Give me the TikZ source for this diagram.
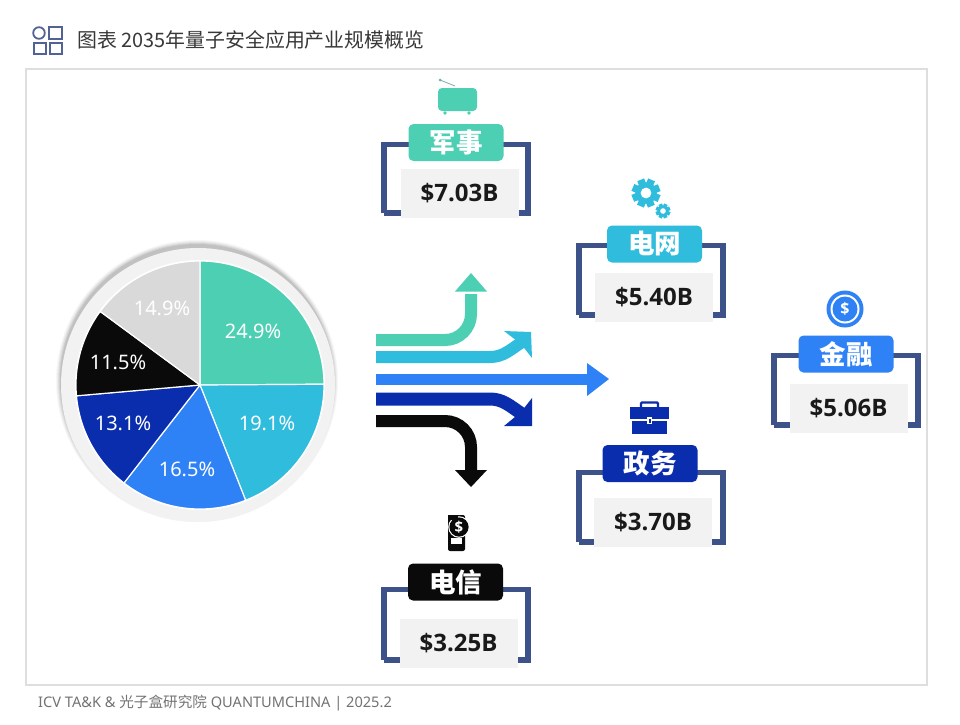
\documentclass[tikz,border=0pt]{standalone}
\usepackage{fontspec}
\usetikzlibrary{calc}
\newfontfamily\cjk{Noto Sans CJK SC}
\newfontfamily\latf{Noto Sans}
\newfontfamily\latb{Open Sans}
\setmainfont{Noto Sans}
\definecolor{cteal}{HTML}{4CCFB2}
\definecolor{ccyan}{HTML}{2FBCDD}
\definecolor{cblue}{HTML}{2F82F6}
\definecolor{cnavy}{HTML}{0A2DAE}
\definecolor{cblack}{HTML}{0A0A0A}
\definecolor{cgrey}{HTML}{D9D9D9}
\definecolor{cbrack}{HTML}{3C5288}
\definecolor{cvalue}{HTML}{F2F2F2}
\tikzset{
  tag/.style={rounded corners=5pt,inner sep=0pt,minimum width=95pt,minimum height=37pt,text=white,font=\cjk\bfseries\fontsize{26.5}{26}\selectfont},
  valbox/.style={fill=cvalue,inner sep=0pt,minimum width=118pt,minimum height=49pt,text=black!90,font=\latb\bfseries\fontsize{24}{26}\selectfont},
  bracket/.style={draw=cbrack,line width=5.5pt,miter limit=10},
  pct/.style={text=white,inner sep=0pt,font=\latf\fontsize{20}{22}\selectfont},
  flow/.style={line width=12pt,rounded corners=26pt},
  gearpart/.style={fill=ccyan,draw=none},
}
% #1 name, #2 tag centre x, #3 tag centre y, #4 colour, #5 text, #6 bracket centre x, #7 bracket top y, #8 bracket bottom y, #9 value centre
\newcommand{\cardbox}[9]{%
  \draw[bracket] (#6-72,#8) -- (#6-72,#7) -- (#6+72,#7) -- (#6+72,#8) -- (#6+50,#8);
  \draw[bracket] (#6-72,#8) -- (#6-50,#8);
  \node[valbox] (#1val) at #9 {\valtext};
  \node[tag,fill=#4] (#1tag) at (#2,#3) {\raisebox{1.5pt}{#5}};
}
\newcommand{\valtext}{}
\newcommand{\gearicon}[3]{%
  \fill[gearpart] (#1,#2) circle[radius=#3];
  \foreach \a in {0,45,...,135}{
    \fill[gearpart,shift={(#1,#2)},rotate=\a+22] (-#3*0.34,-#3*1.32) rectangle (#3*0.34,#3*1.32);
  }
  \fill[white] (#1,#2) circle[radius=#3*0.5];
}
\begin{document}
\begin{tikzpicture}[x=1pt,y=-1pt]
\useasboundingbox (0,0) rectangle (960,724);
\fill[white] (0,0) rectangle (960,724);
% title icon
\draw[cbrack!90,line width=1.8pt] (39,33) circle[radius=5.8];
\draw[cbrack!90,line width=1.8pt] (49,27) rectangle (62,39);
\draw[cbrack!90,line width=1.8pt] (34,43) rectangle (46,54);
\draw[cbrack!90,line width=1.8pt] (50,43) rectangle (62,54);
\node[anchor=west,inner sep=0pt,text=black!78,font=\cjk\fontsize{19.9}{21}\selectfont] (title) at (77,40) {图表 2035年量子安全应用产业规模概览};
% panel
\draw[black!13,line width=1.5pt] (26,69) rectangle (927,685);
\node[anchor=west,inner sep=0pt,text=black!55,font=\latf\fontsize{14.6}{16}\selectfont] (source) at (38,703) {ICV TA\&K \& {\cjk 光子盒研究院} QUANTUMCHINA | 2025.2};
% pie backdrop
\foreach \r/\o in {141/0.03,140/0.04,139/0.05,138/0.06,137/0.08}{
  \fill[black,opacity=\o] (197,381) circle[radius=\r];
}
\fill[black!5] (198,385) circle[radius=137];
\fill[white] (200,385) circle[radius=125];
% pie slices
\coordinate (pc) at (200,385);
\foreach \s/\e/\c in {-90/-0.36/cteal,-0.36/68.4/ccyan,68.4/127.8/cblue,127.8/175/cnavy,175/216.4/cblack,216.4/270/cgrey}{
  \fill[\c,draw=white,line width=1.2pt,line join=round] (pc) -- ($(pc)+(\s:124)$) arc[start angle=\s,end angle=\e,radius=124] -- cycle;
}
\node[pct] (p1) at (253,331) {24.9\%};
\node[pct] (p2) at (267,423) {19.1\%};
\node[pct] (p3) at (187,469) {16.5\%};
\node[pct] (p4) at (123,423) {13.1\%};
\node[pct] (p5) at (118,362) {11.5\%};
\node[pct] (p6) at (162,308) {14.9\%};
% flows
\coordinate (f1) at (376,340); \coordinate (f1e) at (471,294);
\coordinate (f2) at (376,357);
\coordinate (f3) at (376,379); \coordinate (f3e) at (588,379);
\coordinate (f4) at (376,399);
\coordinate (f5) at (376,421); \coordinate (f5e) at (471,471);
\draw[flow,draw=cteal] (f1) -- (471,340) -- (f1e);
\fill[cteal] (455,291.5) -- (471,273) -- (487,291.5) -- cycle;
\draw[line width=12pt,draw=ccyan] (f2) -- (490,357) .. controls (503,357) and (510,350) .. (522,342);
\fill[ccyan] (504,331) -- (531,332) -- (532,358) -- (521,344) -- cycle;
\draw[line width=11pt,draw=cblue] (f3) -- (f3e);
\fill[cblue] (587,363) -- (609,379) -- (587,396) -- cycle;
\draw[line width=13pt,draw=cnavy] (f4) -- (490,399) .. controls (503,399) and (510,406) .. (522,414);
\fill[cnavy] (532,398) -- (532,426) -- (504,426) -- (521,412) -- cycle;
\draw[flow,draw=cblack] (f5) -- (471,421) -- (f5e);
\fill[cblack] (455,470) -- (487,470) -- (471,487) -- cycle;
% cards
\renewcommand{\valtext}{\$7.03B}
\cardbox{jun}{456}{142.5}{cteal}{军事}{456}{144.5}{213}{(459.5,193.5)}
\renewcommand{\valtext}{\$5.40B}
\cardbox{grid}{654.5}{244}{ccyan}{电网}{651}{245.5}{315}{(654,297.5)}
\renewcommand{\valtext}{\$5.06B}
\cardbox{fin}{846}{354}{cblue}{金融}{846}{355.5}{425}{(848.5,408.5)}
\renewcommand{\valtext}{\$3.70B}
\cardbox{gov}{650}{463.5}{cnavy}{政务}{651}{472.5}{542}{(653,522)}
\renewcommand{\valtext}{\$3.25B}
\cardbox{tel}{455.5}{582}{cblack}{电信}{456}{589.5}{660}{(458.5,643)}
% radio icon
\draw[cteal!70!black!70,line width=0.8pt] (440,80) -- (455,86);
\fill[cteal!70!black!70] (440,80) circle[radius=1.5];
\fill[cteal,rounded corners=4pt] (438,88) rectangle (477,111);
\fill[cteal] (445,113) circle[radius=1.8];
\fill[cteal] (469,113) circle[radius=1.8];
% gears
\gearicon{646}{193}{10.8}
\gearicon{663}{211}{5.6}
% coin
\fill[cblue] (845,309) circle[radius=18.5];
\fill[white] (845,309) circle[radius=14.5];
\fill[cblue] (845,309) circle[radius=12.5];
\node[inner sep=0pt,text=white,font=\latb\bfseries\fontsize{16}{16}\selectfont] (coinsign) at (845,309) {\$};
% briefcase
\draw[cnavy,line width=2.2pt,rounded corners=1pt] (641,407) -- (641,402.5) -- (658,402.5) -- (658,407);
\fill[cnavy] (630,407) rectangle (669,419);
\fill[cnavy] (632,421) rectangle (667,434);
\fill[white] (647,417) rectangle (652,424);
\fill[cnavy] (648.5,418.5) rectangle (650.5,422.5);
% phone
\fill[cblack,rounded corners=2pt] (448,515) rectangle (465,551);
\fill[white] (451,538) rectangle (462,544);
\fill[white] (459,527) circle[radius=10.8];
\fill[cblack] (459,527) circle[radius=9.6];
\fill[cblack] (448,515) rectangle (458,520);
\node[inner sep=0pt,text=white,font=\latb\bfseries\fontsize{15}{15}\selectfont] (phonesign) at (459,527) {\$};
\end{tikzpicture}
\end{document}
